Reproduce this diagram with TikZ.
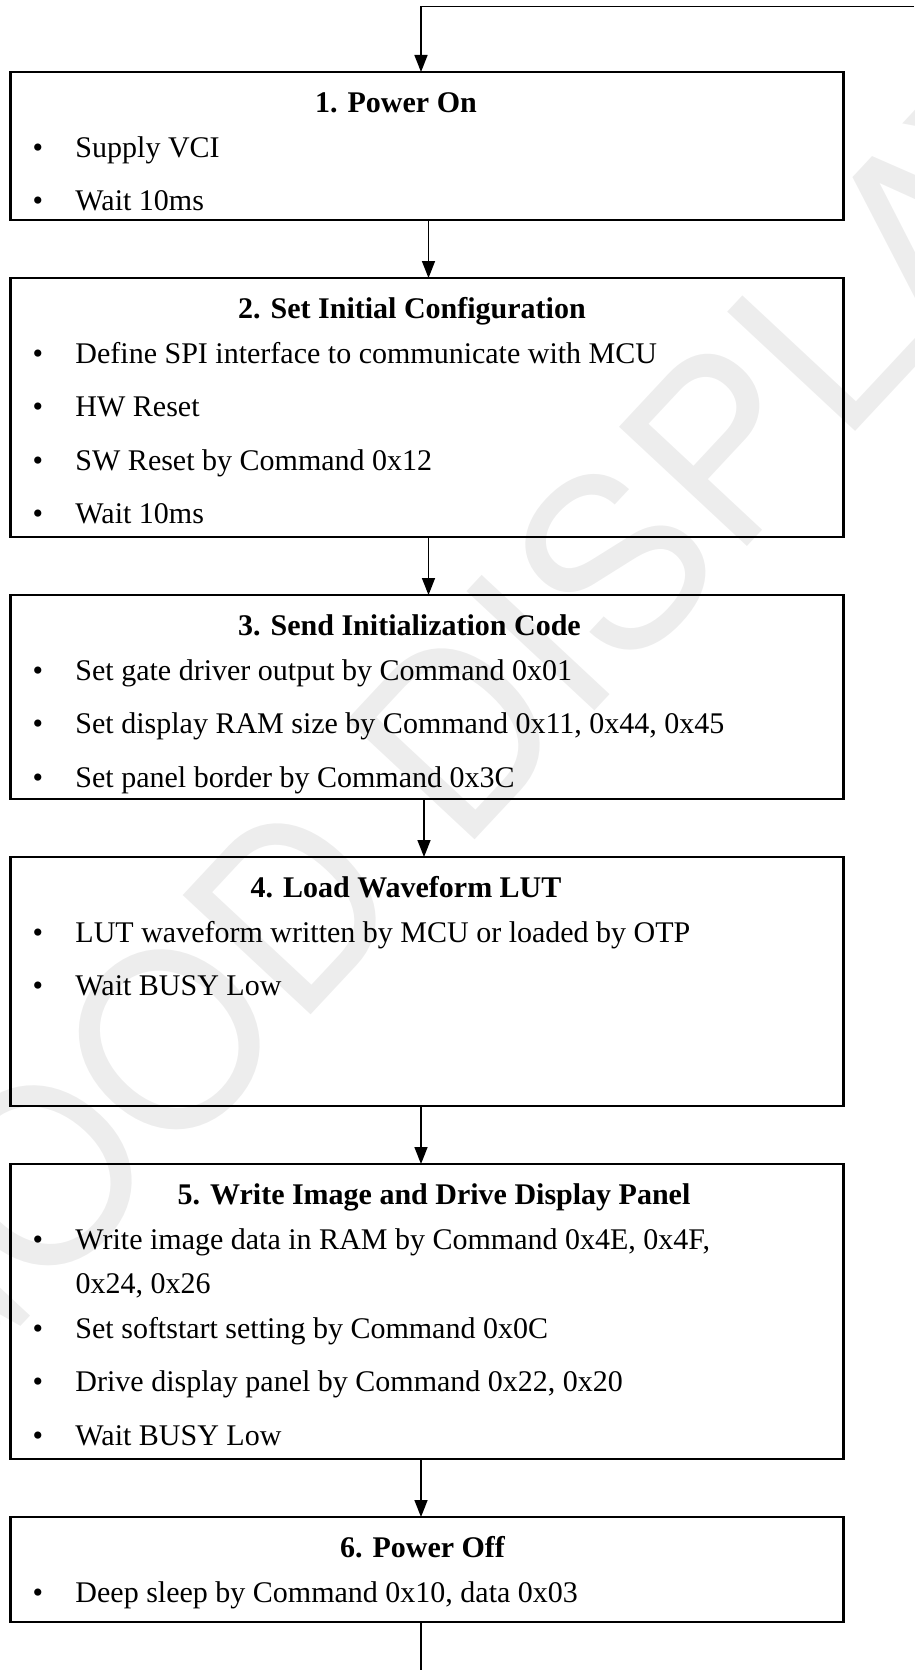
\documentclass[tikz,border=0pt]{standalone}
\usepackage{fontspec}
\setmainfont{Liberation Serif}
\newfontfamily\wmfont{TeX Gyre Heros}
\usetikzlibrary{positioning, arrows.meta}

\newcommand{\bul}{\makebox[65pt][l]{\hspace{22pt}\textbullet}}
\newcommand{\steptext}[4]{\parbox[t][#1][t]{833pt}{\noindent\rule{0pt}{40pt}\hspace*{#2}\makebox[0pt]{\bfseries #3}\\[-8.5pt]#4}}

\begin{document}
\begin{tikzpicture}[x=1pt, y=1pt, node distance=58pt,
    stepbox/.style={draw, line width=2.2pt, inner sep=0pt, outer sep=0pt, anchor=north,
      font=\fontsize{30pt}{53.5pt}\selectfont},
    flow/.style={line width=1.6pt, -{Triangle[length=17pt,width=13pt]}},
    watermark/.style={text=black!7, rotate=47, inner sep=0pt,
      font=\wmfont\fontsize{240pt}{240pt}\selectfont}]
	\useasboundingbox (0,0) rectangle (914,-1670);

	\node[watermark] (wm) at (462,-725) {GOOD DISPLAY};

	\node[stepbox] (s1) at (427,-72) {\steptext{148pt}{385.5pt}{1. Power On}{%
		\bul Supply VCI\\
		\bul Wait 10ms}};
	\node[stepbox, below=of s1] (s2) {\steptext{259pt}{401.5pt}{2. Set Initial Configuration}{%
		\bul Define SPI interface to communicate with MCU\\
		\bul HW Reset\\
		\bul SW Reset by Command 0x12\\
		\bul Wait 10ms}};
	\node[stepbox, below=of s2] (s3) {\steptext{204pt}{399pt}{3. Send Initialization Code}{%
		\bul Set gate driver output by Command 0x01\\
		\bul Set display RAM size by Command 0x11, 0x44, 0x45\\
		\bul Set panel border by Command 0x3C}};
	\node[stepbox, below=of s3] (s4) {\steptext{249pt}{395.5pt}{4. Load Waveform LUT}{%
		\bul LUT waveform written by MCU or loaded by OTP\\
		\bul Wait BUSY Low}};
	\node[stepbox, below=of s4] (s5) {\steptext{295pt}{423.5pt}{5. Write Image and Drive Display Panel}{%
		\bul Write image data in RAM by Command 0x4E, 0x4F,\\[-9.5pt]
		\hspace*{65pt}0x24, 0x26\\[-8.5pt]
		\bul Set softstart setting by Command 0x0C\\
		\bul Drive display panel by Command 0x22, 0x20\\
		\bul Wait BUSY Low}};
	\node[stepbox, below=of s5] (s6) {\steptext{105pt}{412pt}{6. Power Off}{%
		\bul Deep sleep by Command 0x10, data 0x03}};

	\coordinate (loopin) at (914,-6.5);
	\coordinate (loopcorner) at (421,-6.5);
	\coordinate (loopout) at (421,-1670);

	\draw[flow] (loopin) -- (loopcorner) -- ([xshift=-6pt]s1.north);
	\draw[flow] ([xshift=1.5pt]s1.south) -- ([xshift=1.5pt]s2.north);
	\draw[flow] ([xshift=1.5pt]s2.south) -- ([xshift=1.5pt]s3.north);
	\draw[flow] ([xshift=-3pt]s3.south) -- ([xshift=-3pt]s4.north);
	\draw[flow] ([xshift=-6pt]s4.south) -- ([xshift=-6pt]s5.north);
	\draw[flow] ([xshift=-6pt]s5.south) -- ([xshift=-6pt]s6.north);
	\draw[line width=1.6pt] ([xshift=-6pt]s6.south) -- (loopout);
\end{tikzpicture}
\end{document}
